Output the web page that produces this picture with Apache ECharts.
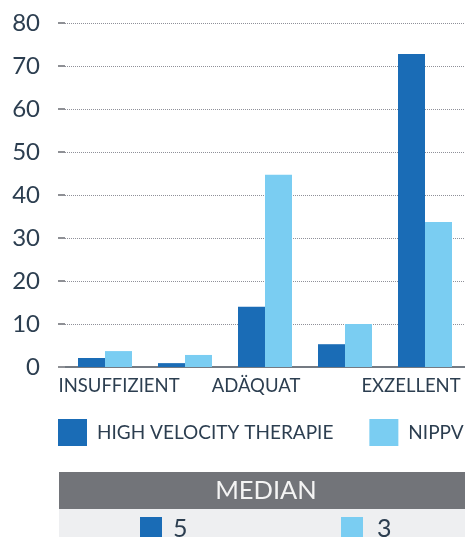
<!DOCTYPE html>
<html>
<head>
<meta charset="utf-8">
<title>Bewertung</title>
<script src="https://cdn.jsdelivr.net/npm/echarts@6/dist/echarts.min.js"></script>
<style>
  html, body { margin: 0; padding: 0; background: #fff; }
  #chart { width: 465px; height: 537px; }
</style>
</head>
<body>
<div id="chart"></div>
<script>
// categories (2nd and 4th have no visible label in the source)
var categories = ['INSUFFIZIENT', '', 'ADÄQUAT', '', 'EXZELLENT'];
var seriesNames = ['HIGH VELOCITY THERAPIE', 'NIPPV'];
var highVelocity = [2.1, 0.9, 14, 5.3, 72.8];
var nippv = [3.7, 2.8, 44.7, 10, 33.7];
var medians = [5, 3];
var colors = ['#1a6cb6', '#7acdf2'];

var textColor = '#2c3e50';
var font = 'Lato, "Open Sans", sans-serif';

// labels in the source sit a bit off the band centre
var labelPad = [[0, 0, 0, 28], [0, 0, 0, 0], [0, 18, 0, 0], [0, 0, 0, 0], [0, 28, 0, 0]];
var xData = categories.map(function (c, i) {
  return { value: c, textStyle: { padding: labelPad[i] } };
});

var chart = echarts.init(document.getElementById('chart'));

var option = {
  animation: false,
  color: colors,
  textStyle: { fontFamily: font },
  grid: { left: 65, width: 402.5, top: 23, bottom: 170, containLabel: false },
  legend: {
    data: seriesNames,
    left: 58,
    top: 419,
    width: 800,
    padding: 0,
    itemWidth: 29,
    itemHeight: 27,
    itemGap: 36,
    icon: 'rect',
    textStyle: { color: textColor, fontSize: 19, fontFamily: font, padding: [0, 0, 0, 5] }
  },
  xAxis: {
    type: 'category',
    data: xData,
    axisLine: { lineStyle: { color: '#747a82', width: 2 } },
    axisTick: { show: false },
    axisLabel: { color: textColor, fontSize: 18.5, fontFamily: font, margin: 10, interval: 0 }
  },
  yAxis: {
    type: 'value',
    min: 0,
    max: 80,
    interval: 10,
    axisLine: { show: false },
    axisTick: { show: true, length: 7, lineStyle: { color: '#8e9095', width: 2 } },
    axisLabel: { color: textColor, fontSize: 24, fontFamily: font, margin: 25 },
    splitLine: { lineStyle: { type: 'dotted', color: '#8f9099', width: 1 } }
  },
  series: [
    { name: seriesNames[0], type: 'bar', data: highVelocity, barWidth: 27, barGap: '0%' },
    { name: seriesNames[1], type: 'bar', data: nippv, barWidth: 27, barGap: '0%' }
  ],
  graphic: [
    { type: 'rect', shape: { x: 59, y: 472, width: 414, height: 37 }, style: { fill: '#727479' } },
    { type: 'text', x: 266, y: 491, style: { text: 'MEDIAN', fill: '#f4f4f4', font: '25.5px ' + font, align: 'center', verticalAlign: 'middle' } },
    { type: 'rect', shape: { x: 59, y: 509, width: 414, height: 30 }, style: { fill: '#eeeff1' } },
    { type: 'rect', shape: { x: 140, y: 517, width: 22, height: 22 }, style: { fill: colors[0] } },
    { type: 'text', x: 173, y: 529, style: { text: String(medians[0]), fill: textColor, font: '25px ' + font, verticalAlign: 'middle' } },
    { type: 'rect', shape: { x: 341, y: 517, width: 22, height: 22 }, style: { fill: colors[1] } },
    { type: 'text', x: 377, y: 529, style: { text: String(medians[1]), fill: textColor, font: '25px ' + font, verticalAlign: 'middle' } }
  ]
};

chart.setOption(option);
</script>
</body>
</html>
